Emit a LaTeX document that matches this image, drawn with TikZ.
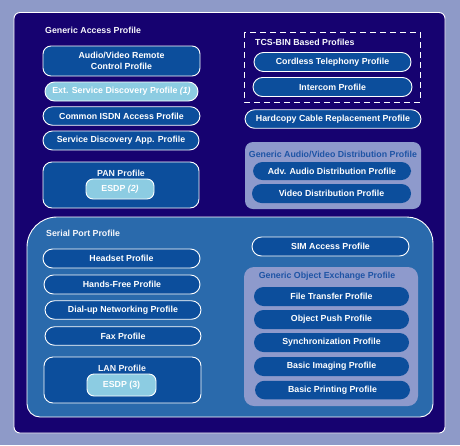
\documentclass[tikz,border=0pt]{standalone}
\usepackage{fontspec}
\setmainfont{Liberation Sans}
\definecolor{bgl}{RGB}{142,154,200}
\definecolor{navy}{RGB}{22,2,112}
\definecolor{boxb}{RGB}{12,78,156}
\definecolor{serb}{RGB}{42,106,172}
\definecolor{cyanl}{RGB}{140,204,226}
\definecolor{lav}{RGB}{142,154,204}
\definecolor{ttlb}{RGB}{30,84,165}
\tikzset{
  pill/.style={draw=white, line width=0.9pt, fill=boxb, rounded corners=9.5pt, text=white,
    inner sep=0pt, font=\fontsize{8.8}{10.5}\selectfont\bfseries},
  pillin/.style={pill, draw=none},
  lightpill/.style={pill, fill=cyanl},
  grp/.style={draw=white, line width=0.9pt, fill=boxb, rounded corners=9pt, inner sep=0pt},
  ttl/.style={text=white!92!bgl, inner sep=0pt, font=\fontsize{8.8}{10.5}\selectfont\bfseries},
  ttlblue/.style={text=ttlb, inner sep=0pt, font=\fontsize{8.8}{10.5}\selectfont\bfseries},
}
\newcommand{\bx}[6]{\node[#1, minimum width=#4pt, minimum height=#5pt] (#2) at (#3) {#6};}
\begin{document}
\begin{tikzpicture}[x=1pt,y=-1pt]
\useasboundingbox (0,0) rectangle (460,445);
\fill[bgl] (0,0) rectangle (460,445);
% outer navy
\draw[white, line width=0.9pt, fill=navy, rounded corners=6pt] (14,12.5) rectangle (445,433);
\node[ttl, anchor=west] (gap) at (45,30) {Generic Access Profile};
% left column top
\node[pill, rounded corners=8pt, minimum width=157pt, minimum height=30pt, align=center] (avrc) at (121.5,61) {Audio/Video Remote\\Control Profile};
\bx{lightpill}{esdpone}{121.5,91.5}{153}{19}{Ext. Service Discovery Profile \textit{(1)}}
\bx{pill}{cisdn}{121.5,116}{157}{18.5}{Common ISDN Access Profile}
\bx{pill}{sdap}{121,140.5}{156}{19}{Service Discovery App. Profile}
\bx{grp}{pan}{121,185}{156}{46}{}
\node[ttl] (pant) at (121,173) {PAN Profile};
\node[lightpill, rounded corners=7pt, minimum width=68pt, minimum height=20pt] (esdptwo) at (120,189) {ESDP \textit{(2)}};
% right column top
\draw[white, line width=0.9pt, dash pattern=on 6pt off 4pt] (244,32) rectangle (420,102);
\node[ttl, anchor=west] (tcs) at (255,42) {TCS-BIN Based Profiles};
\bx{pill}{ctp}{332.5,62}{157}{19}{Cordless Telephony Profile}
\bx{pill}{icp}{332.5,87}{159}{19}{Intercom Profile}
\bx{pill}{hcrp}{333,119}{176}{18.5}{Hardcopy Cable Replacement Profile}
\fill[lav, rounded corners=8pt] (245,142) rectangle (421,209);
\node[ttlblue] (gavdp) at (333,154) {Generic Audio/Video Distribution Profile};
\bx{pillin}{adp}{332,171}{158}{18}{Adv. Audio Distribution Profile}
\bx{pillin}{vdp}{331.5,193.5}{159}{19}{Video Distribution Profile}
% serial port
\draw[white, line width=0.9pt, fill=serb]
  (57,217) -- (407,217) arc[start angle=270, end angle=360, radius=26] -- (433,404)
  arc[start angle=0, end angle=90, radius=13] -- (40,417)
  arc[start angle=90, end angle=180, radius=13] -- (27,247)
  arc[start angle=180, end angle=270, radius=30] -- cycle;
\node[ttl, anchor=west] (spp) at (46,233) {Serial Port Profile};
\bx{pill}{hsp}{121.5,258.5}{157}{19}{Headset Profile}
\bx{pill}{hfp}{122,284.5}{156}{19}{Hands-Free Profile}
\bx{pill}{dun}{123,310}{156}{18.5}{Dial-up Networking Profile}
\bx{pill}{fax}{123,336}{156}{18.5}{Fax Profile}
\bx{grp}{lan}{122.5,380}{157}{46}{}
\node[ttl] (lant) at (122,368) {LAN Profile};
\node[lightpill, rounded corners=7pt, minimum width=69pt, minimum height=22pt] (esdpthree) at (121.5,385) {ESDP (3)};
\bx{pill}{sim}{330.5,246.5}{157}{19}{SIM Access Profile}
\fill[lav, rounded corners=10pt] (244,267) rectangle (418,406);
\node[ttlblue] (goep) at (327,276) {Generic Object Exchange Profile};
\bx{pillin}{ftp}{331.5,296.5}{155}{19}{File Transfer Profile}
\bx{pillin}{opp}{331.5,319.5}{155}{19}{Object Push Profile}
\bx{pillin}{syn}{331.5,342.5}{155}{19}{Synchronization Profile}
\bx{pillin}{bip}{331.5,366.5}{155}{19}{Basic Imaging Profile}
\bx{pillin}{bpp}{332.5,390}{155}{18.5}{Basic Printing Profile}
\end{tikzpicture}
\end{document}
